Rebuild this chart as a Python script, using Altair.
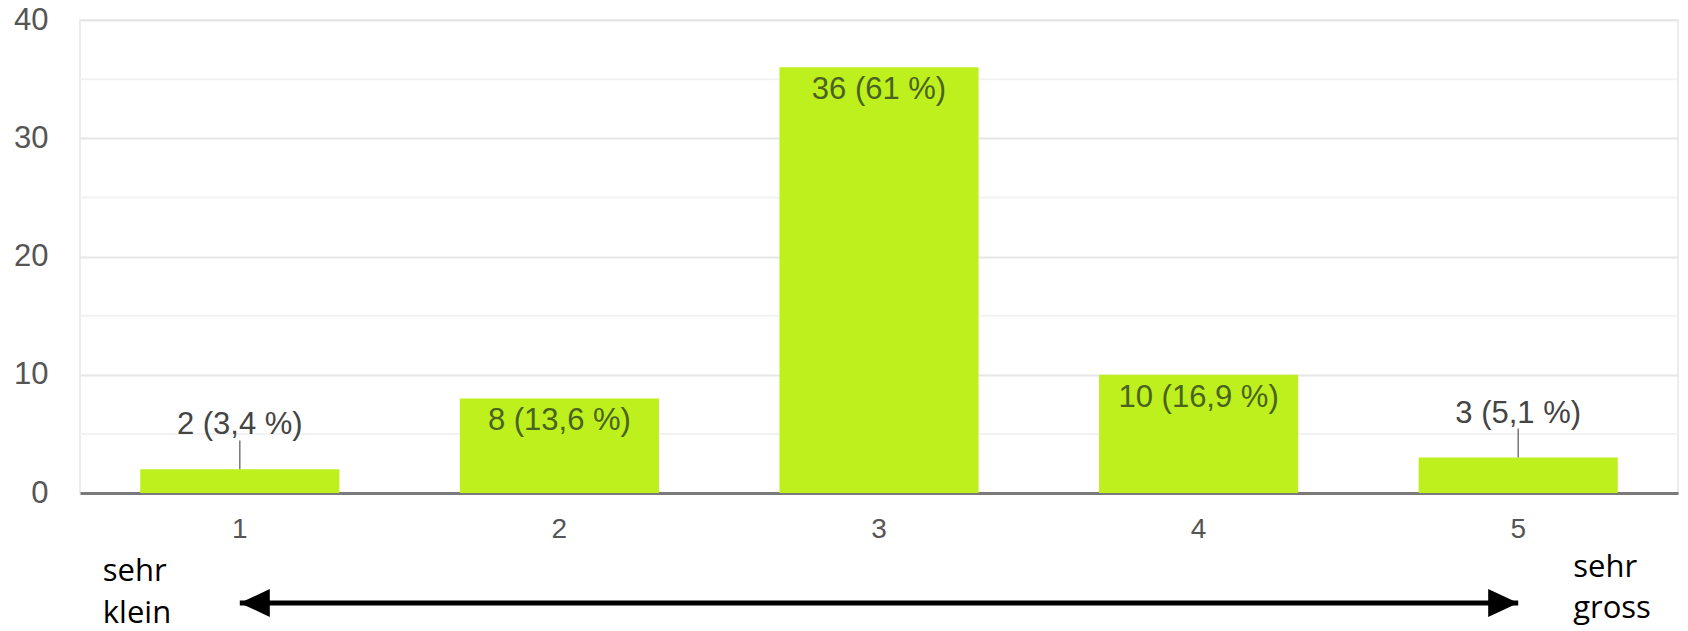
import altair as alt
import pandas as pd

# Survey answers on a 1-5 scale
categories = ["1", "2", "3", "4", "5"]
counts = [2, 8, 36, 10, 3]
percents = ["3,4", "13,6", "61", "16,9", "5,1"]

major_ticks = [0, 10, 20, 30, 40]
minor_ticks = [5, 15, 25, 35]

scale_ends = ["1", "5"]
left_caption = "sehr\nklein"
right_caption = "sehr\ngross"

BAR_COLOR = "#bdf01c"
FONT = "Liberation Sans"

bars_df = pd.DataFrame({
    "cat": categories,
    "count": counts,
    "label": [f"{c} ({p} %)" for c, p in zip(counts, percents)],
})
minor_df = pd.DataFrame({"count": minor_ticks})
ends_df = pd.DataFrame({"cat": scale_ends})

x_scale = alt.Scale(domain=categories, paddingInner=0.377, paddingOuter=0.1885)
y_scale = alt.Scale(domain=[0, 40], nice=False)

x_axis = alt.Axis(title=None, labelAngle=0, ticks=False, grid=False,
                  domainColor="#7a7a7a", domainWidth=3,
                  labelFontSize=28, labelColor="#555555", labelFont=FONT,
                  labelPadding=22)
y_axis = alt.Axis(title=None, values=major_ticks, domain=False, ticks=False,
                  grid=True, gridColor="#e6e6e6", gridWidth=2,
                  labelFontSize=31, labelColor="#555555", labelFont=FONT,
                  labelPadding=32)

x_enc = alt.X("cat:N", scale=x_scale, sort=categories, axis=x_axis)
y_enc = alt.Y("count:Q", scale=y_scale, axis=y_axis)

# light half-step gridlines
minor = alt.Chart(minor_df).mark_rule(color="#f2f2f2", strokeWidth=2).encode(
    y=y_enc
)

bars = alt.Chart(bars_df).mark_bar(color=BAR_COLOR).encode(x=x_enc, y=y_enc)

base = alt.Chart(bars_df).encode(x=x_enc, y=y_enc, text="label:N")

inside_labels = base.transform_filter("datum.count >= 5").mark_text(
    font=FONT, fontSize=31, color="#4a6320", baseline="middle", dy=23
)
outside_labels = base.transform_filter("datum.count < 5").mark_text(
    font=FONT, fontSize=31, color="#444444", baseline="middle", dy=-44
)

leaders = alt.Chart(bars_df).transform_filter("datum.count < 5").transform_calculate(
    top="datum.count + 2.45"
).mark_rule(color="#777777", strokeWidth=1.5).encode(
    x=x_enc, y=y_enc, y2="top:Q",
)

# double-headed arrow under the axis, from the first to the last answer
arrow_line = alt.Chart(ends_df).mark_line(color="black", strokeWidth=5).encode(
    x=x_enc, y=alt.value(583),
)
head_left = alt.Chart(ends_df).transform_filter("datum.cat == '1'").mark_point(
    shape="M-1,0 L1,-0.93 L1,0.93 Z", size=900, filled=True, color="black",
    opacity=1, xOffset=15,
).encode(x=x_enc, y=alt.value(583))
head_right = alt.Chart(ends_df).transform_filter("datum.cat == '5'").mark_point(
    shape="M1,0 L-1,-0.93 L-1,0.93 Z", size=900, filled=True, color="black",
    opacity=1, xOffset=-15,
).encode(x=x_enc, y=alt.value(583))

caption_left = alt.Chart(ends_df).transform_filter("datum.cat == '1'").mark_text(
    text=left_caption, lineBreak="\n", lineHeight=42, align="left",
    baseline="alphabetic", font="Open Sans", fontSize=31, color="black", dx=-137,
).encode(x=x_enc, y=alt.value(561))
caption_right = alt.Chart(ends_df).transform_filter("datum.cat == '5'").mark_text(
    text=right_caption, lineBreak="\n", lineHeight=41, align="left",
    baseline="alphabetic", font="Open Sans", fontSize=31, color="black", dx=55,
).encode(x=x_enc, y=alt.value(557))

chart = alt.layer(
    minor, bars, leaders, inside_labels, outside_labels,
    arrow_line, head_left, head_right, caption_left, caption_right,
).properties(
    width=1598, height=473,
    autosize=alt.AutoSizeParams(type="none"),
    padding={"left": 80, "top": 20, "right": 10, "bottom": 138},
    background="white",
).configure_view(stroke="#ececec", strokeWidth=2)

chart.save("out.html", embed_options={"renderer": "svg", "actions": False})
